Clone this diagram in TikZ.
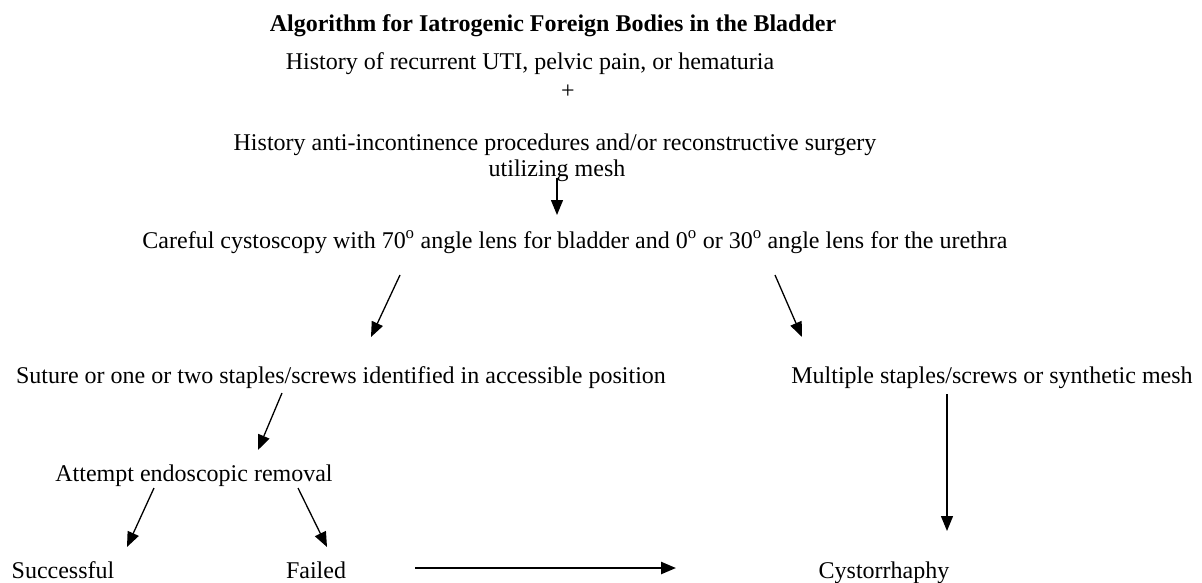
\documentclass[tikz,border=0pt]{standalone}
\usepackage{fontspec}
\setmainfont{Liberation Serif}
\usetikzlibrary{arrows.meta}
\begin{document}
\begin{tikzpicture}[x=1pt,y=-1pt,
  txt/.style={inner sep=0pt,anchor=base,font=\fontsize{24}{28}\selectfont},
  ttl/.style={inner sep=0pt,anchor=base,font=\fontsize{24}{28}\selectfont\bfseries},
  arr/.style={-{Triangle[length=15pt,width=12pt]},line width=1.3pt},
  bigarr/.style={-{Triangle[length=15pt,width=12pt]},line width=2.4pt}]
\useasboundingbox (0,0) rectangle (1202,583);
\node[ttl] (title) at (553,32) {Algorithm for Iatrogenic Foreign Bodies in the Bladder};
\node[txt] (hist1) at (530,70) {History of recurrent UTI, pelvic pain, or hematuria};
\node[txt] (plus) at (568,99) {+};
\node[txt] (hist2) at (555,150) {History anti-incontinence procedures and/or reconstructive surgery};
\node[txt] (mesh) at (557,176) {utilizing mesh};
\node[txt] (cysto) at (575,248) {Careful cystoscopy with 70\textsuperscript{o} angle lens for bladder and 0\textsuperscript{o} or 30\textsuperscript{o} angle lens for the urethra};
\node[txt] (suture) at (341,383) {Suture or one or two staples/screws identified in accessible position};
\node[txt] (multi) at (992,383) {Multiple staples/screws or synthetic mesh};
\node[txt] (attempt) at (194,481) {Attempt endoscopic removal};
\node[txt] (succ) at (63,578) {Successful};
\node[txt] (fail) at (316,578) {Failed};
\node[txt] (cystor) at (884,578) {Cystorrhaphy};
\coordinate (a1s) at (557,178); \coordinate (a1e) at (557,215);
\coordinate (a2s) at (400,275); \coordinate (a2e) at (371,337);
\coordinate (a3s) at (775,275); \coordinate (a3e) at (802,337);
\coordinate (a4s) at (282,393); \coordinate (a4e) at (258,450);
\coordinate (a5s) at (154,488); \coordinate (a5e) at (127,547);
\coordinate (a6s) at (298,488); \coordinate (a6e) at (327,547);
\coordinate (a7s) at (947,394); \coordinate (a7e) at (947,531);
\coordinate (a8s) at (415,568); \coordinate (a8e) at (676,568);
\draw[arr] (a1s) -- (a1e);
\draw[arr] (a2s) -- (a2e);
\draw[arr] (a3s) -- (a3e);
\draw[arr] (a4s) -- (a4e);
\draw[arr] (a5s) -- (a5e);
\draw[arr] (a6s) -- (a6e);
\draw[arr] (a7s) -- (a7e);
\draw[bigarr] (a8s) -- (a8e);
\end{tikzpicture}
\end{document}
